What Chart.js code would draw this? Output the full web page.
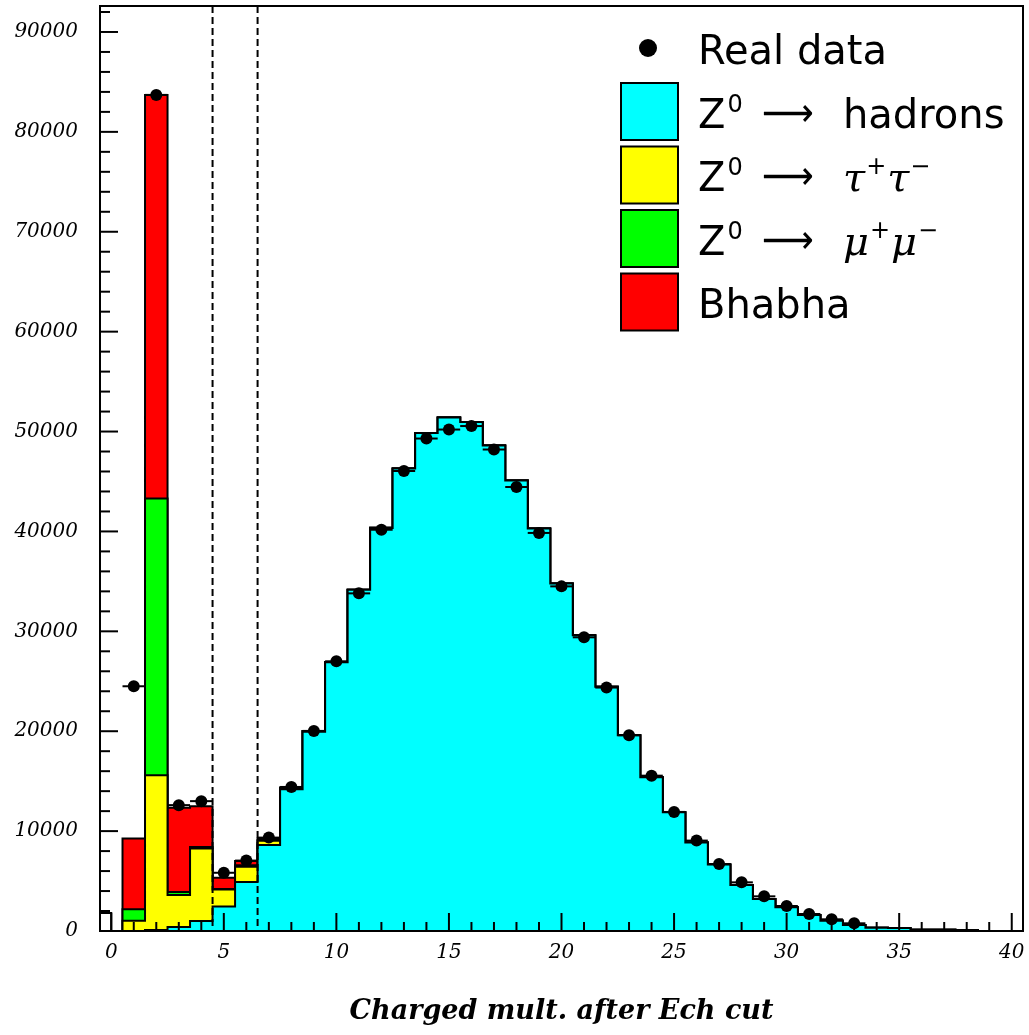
<!DOCTYPE html>
<html>
<head>
<meta charset="utf-8">
<script src="https://cdn.jsdelivr.net/npm/chart.js@4.4.1/dist/chart.umd.min.js"></script>
<style>
  body { margin: 0; background: #fff; }
  canvas { display: block; }
</style>
</head>
<body>
<canvas id="myChart" width="1029" height="1035"></canvas>
<script>
// bins de multiplicidad cargada (centros)
const bins = [0,1,2,3,4,5,6,7,8,9,10,11,12,13,14,15,16,17,18,19,20,21,22,23,24,25,26,27,28,29,30,31,32,33,34,35,36,37,38,39,40]

// Monte Carlo, apilado: hadrones abajo, luego tau, mu, Bhabha
const hadrons = [0,0,100,400,1000,2450,4900,8600,14200,19950,26900,34150,40350,46300,49850,51400,50950,48600,45100,40300,
  34800,29600,24450,19600,15400,11900,8850,6650,4600,3200,2370,1600,1030,600,330,300,130,120,100,0,0]
const tautau = [0,1030,15500,3200,7270,1700,1530,430,120,60,30,20,10,0,0,0,0,0,0,0,0,0,0,0,0,0,0,0,0,0,0,0,0,0,0,0,0,0,0,0,0]
const mumu = [0,1140,27700,300,150,50,150,100,30,10,0,0,0,0,0,0,0,0,0,0,0,0,0,0,0,0,0,0,0,0,0,0,0,0,0,0,0,0,0,0,0]
const bhabha = [0,7100,40400,8430,4080,1130,420,140,20,10,0,0,0,0,0,0,0,0,0,0,0,0,0,0,0,0,0,0,0,0,0,0,0,0,0,0,0,0,0,0,0]

// datos reales
const realData = [null,24500,83700,12600,13000,5830,7050,9350,14420,20030,27000,33800,40170,46050,49300,50200,50550,48200,44450,39850,
  34500,29400,24370,19600,15550,11920,9050,6700,4870,3470,2500,1700,1170,770,null,null,null,null,null,null,null]

// bin de multiplicidad cero (medio bin, sin relleno)
const zeroBinEdges = [-0.5, 0]
const zeroBinValue = 1800

// cortes (lineas discontinuas)
const cutValues = [4.5, 6.5]

// etiquetas de los ejes
const xTickLabels = [0,5,10,15,20,25,30,35,40]
const yTickLabels = [0,10000,20000,30000,40000,50000,60000,70000,80000,90000]
const xTitle = 'Charged mult. after Ech cut'
const seriesColors = ['#00ffff', '#ffff00', '#00ff00', '#ff0000']

const toPoints = vals => bins.map((b, i) => ({x: b, y: vals[i]}))

const histo = (label, vals, color, fill) => ({
  label: label,
  data: toPoints(vals),
  stack: 'mc',
  stepped: 'middle',
  borderColor: '#000',
  borderWidth: 2,
  backgroundColor: color,
  fill: fill,
  pointRadius: 0
})

// leyenda a mano, estilo PAW
const legendPlugin = {
  id: 'pawLegend',
  afterDraw(chart) {
    const {ctx, chartArea: ca} = chart
    const left = ca.right - 402
    const sans = '40px "DejaVu Sans"'
    const sup = '24px "DejaVu Sans"'
    const math = 'italic 40px "DejaVu Serif"'
    ctx.save()
    ctx.fillStyle = '#000'
    ctx.textBaseline = 'alphabetic'
    ctx.textAlign = 'left'

    // Real data
    let cy = ca.top + 42
    ctx.beginPath()
    ctx.arc(left + 27, cy, 9, 0, Math.PI * 2)
    ctx.fill()
    ctx.font = sans
    ctx.fillText('Real data', left + 77, cy + 16)

    const rows = [
      [['hadrons', sans, 0]],
      [['τ', math, 0], ['+', sup, -17], ['τ', math, 0], ['−', sup, -17]],
      [['μ', math, 0], ['+', sup, -17], ['μ', math, 0], ['−', sup, -17]],
      null
    ]
    rows.forEach((parts, i) => {
      const top = ca.top + 77 + i * 63.5
      ctx.fillStyle = seriesColors[i]
      ctx.fillRect(left, top, 57, 57)
      ctx.lineWidth = 2
      ctx.strokeStyle = '#000'
      ctx.strokeRect(left, top, 57, 57)
      ctx.fillStyle = '#000'
      const base = top + 28.5 + 16
      if (!parts) {
        ctx.font = sans
        ctx.fillText('Bhabha', left + 77, base)
        return
      }
      ctx.font = sans
      ctx.fillText('Z', left + 77, base)
      let zw = ctx.measureText('Z').width
      ctx.font = sup
      ctx.fillText('0', left + 77 + zw + 2, base - 16)
      ctx.font = sans
      ctx.fillText('⟶', left + 141, base - 2, 52)
      let px = left + 222
      parts.forEach(([t, f, dy]) => {
        ctx.font = f
        ctx.fillText(t, px, base + dy)
        px += ctx.measureText(t).width + 1
      })
    })
    ctx.restore()
  }
}

// marco, ticks hacia dentro, cortes y barras horizontales de los datos
const framePlugin = {
  id: 'pawFrame',
  afterDatasetsDraw(chart) {
    const {ctx, chartArea: ca, scales: {x, y}} = chart
    ctx.save()
    ctx.strokeStyle = '#000'

    ctx.lineWidth = 2
    ctx.setLineDash([7, 4])
    cutValues.forEach(c => {
      const px = x.getPixelForValue(c)
      ctx.beginPath()
      ctx.moveTo(px, ca.top)
      ctx.lineTo(px, ca.bottom)
      ctx.stroke()
    })
    ctx.setLineDash([])

    realData.forEach((v, i) => {
      if (v == null) return
      const py = y.getPixelForValue(v)
      ctx.beginPath()
      ctx.moveTo(x.getPixelForValue(bins[i] - 0.5), py)
      ctx.lineTo(x.getPixelForValue(bins[i] + 0.5), py)
      ctx.stroke()
    })

    ctx.lineWidth = 2
    for (let v = 0; v <= x.max; v++) {
      const px = x.getPixelForValue(v)
      const len = v % 5 === 0 ? 18 : 9
      ctx.beginPath()
      ctx.moveTo(px, ca.bottom)
      ctx.lineTo(px, ca.bottom - len)
      ctx.stroke()
    }
    for (let v = 0; v <= y.max; v += 2000) {
      const py = y.getPixelForValue(v)
      const len = v % 10000 === 0 ? 18 : 10
      ctx.beginPath()
      ctx.moveTo(ca.left, py)
      ctx.lineTo(ca.left + len, py)
      ctx.stroke()
    }

    ctx.strokeRect(ca.left, ca.top, ca.right - ca.left, ca.bottom - ca.top)
    ctx.restore()
  }
}

const ctx = document.getElementById('myChart').getContext('2d')
const myChart = new Chart(ctx, {
  type: 'line',
  data: {
    datasets: [
      histo('Z0 → hadrons', hadrons, seriesColors[0], 'origin'),
      histo('Z0 → τ+τ-', tautau, seriesColors[1], '-1'),
      histo('Z0 → μ+μ-', mumu, seriesColors[2], '-1'),
      histo('Bhabha', bhabha, seriesColors[3], '-1'),
      {
        label: 'mult 0',
        data: [{x: zeroBinEdges[0], y: zeroBinValue}, {x: zeroBinEdges[1], y: 0}],
        stack: 'zero',
        stepped: true,
        borderColor: '#000',
        borderWidth: 2,
        backgroundColor: '#fff',
        fill: 'origin',
        pointRadius: 0
      },
      {
        label: 'Real data',
        data: toPoints(realData),
        stack: 'data',
        order: -1,
        showLine: false,
        fill: false,
        pointRadius: 6,
        pointStyle: 'circle',
        pointBackgroundColor: '#000',
        pointBorderColor: '#000',
        pointBorderWidth: 0
      }
    ]
  },
  options: {
    responsive: false,
    animation: false,
    events: [],
    layout: { padding: { top: 5, right: 6, left: 0, bottom: 0 } },
    plugins: {
      legend: { display: false },
      tooltip: { enabled: false }
    },
    scales: {
      x: {
        type: 'linear',
        min: -0.5,
        max: 40.5,
        afterBuildTicks: s => { s.ticks = xTickLabels.map(v => ({value: v})) },
        afterFit: s => { s.height = 104; s.paddingLeft = 0; s.paddingRight = 0 },
        grid: { display: false, drawTicks: false },
        border: { display: false },
        ticks: {
          padding: 10,
          color: '#000',
          maxRotation: 0,
          font: { family: 'DejaVu Serif', style: 'italic', size: 20 },
          callback: v => String(v)
        },
        title: {
          display: true,
          text: xTitle,
          color: '#000',
          font: { family: 'DejaVu Serif', style: 'italic', weight: 'bold', size: 27 },
          padding: { top: 0, bottom: 7 }
        }
      },
      y: {
        type: 'linear',
        stacked: true,
        min: 0,
        max: 92600,
        afterBuildTicks: s => { s.ticks = yTickLabels.map(v => ({value: v})) },
        afterFit: s => { s.width = 100; s.paddingTop = 0; s.paddingBottom = 0 },
        grid: { display: false, drawTicks: false },
        border: { display: false },
        ticks: {
          padding: 22,
          color: '#000',
          font: { family: 'DejaVu Serif', style: 'italic', size: 20 },
          callback: v => String(v)
        }
      }
    }
  },
  plugins: [framePlugin, legendPlugin]
})
</script>
</body>
</html>
